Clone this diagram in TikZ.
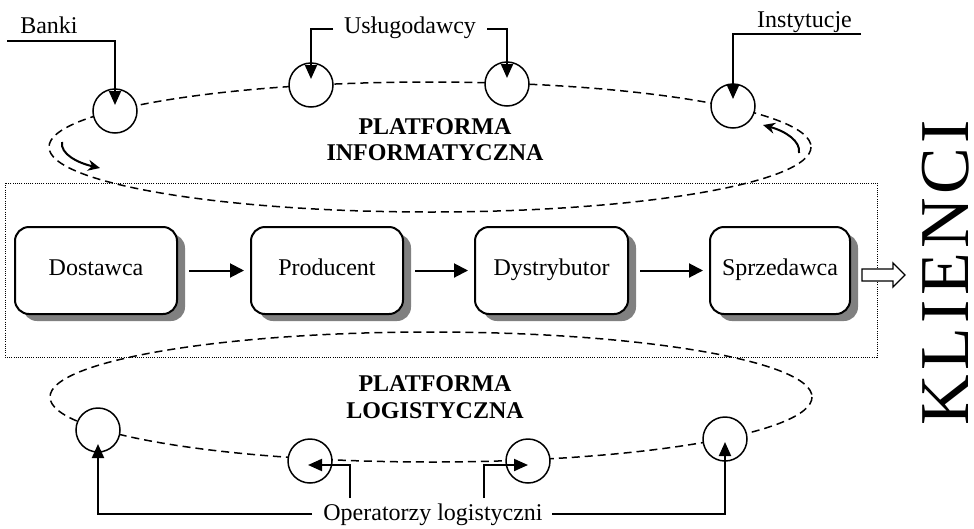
\documentclass[tikz,border=0pt]{standalone}
\usepackage{fontspec}
\setmainfont{Liberation Serif}
\newfontfamily\klientfont[LetterSpace=6]{Liberation Serif}
\usetikzlibrary{arrows.meta,shadows,calc}

\begin{document}
\begin{tikzpicture}[x=1pt,y=-1pt,
  every node/.style={font=\fontsize{24}{28}\selectfont, inner sep=0pt},
  lbl/.style={anchor=base},
  plat/.style={anchor=base, font=\fontsize{24}{28}\selectfont\bfseries},
  stage/.style={draw, line width=2pt, rounded corners=14pt, fill=white,
    minimum height=87pt, text height=16pt, text depth=7pt,
    drop shadow={shadow xshift=8pt, shadow yshift=-7pt, fill=black!50, opacity=1}},
  hub/.style={circle, draw, line width=1.5pt, fill=white, minimum size=44pt},
  orbit/.style={line width=1.5pt, dash pattern=on 8pt off 5pt},
  lead/.style={line width=2pt, -{Triangle[length=14pt,width=12pt]}},
  flow/.style={line width=2pt, -{Triangle[length=14pt,width=14pt]}},
  turn/.style={line width=2pt, -{Stealth[length=12pt,width=11pt]}},
]
\useasboundingbox (0,0) rectangle (974,528);

% frame round the supply chain
\draw[line width=1pt, dash pattern=on 1pt off 1.2pt] (5,183) rectangle (877,357);

% the two platforms
\draw[orbit] (430,147) ellipse [x radius=381, y radius=65];
\draw[orbit] (431,397) ellipse [x radius=381, y radius=65];

% direction of the upper platform
\coordinate (tL0) at (62,142);
\coordinate (tL1) at (100,168);
\coordinate (tR0) at (799,153);
\coordinate (tR1) at (763,125);
\draw[turn] (tL0) .. controls (60,154) and (78,163) .. (tL1);
\draw[turn] (tR0) .. controls (801,141) and (785,131) .. (tR1);

% participants on the platforms
\node[hub] (cB)  at (115,111) {};
\node[hub] (cU1) at (311,85) {};
\node[hub] (cU2) at (507,84) {};
\node[hub] (cI)  at (733,106) {};
\node[hub] (cL1) at (98,430) {};
\node[hub] (cL2) at (310,461) {};
\node[hub] (cL3) at (528,461) {};
\node[hub] (cL4) at (725,439) {};

% platform names
\node[plat] (pi1) at (435,134) {PLATFORMA};
\node[plat] (pi2) at (435,160) {INFORMATYCZNA};
\node[plat] (pl1) at (435,391) {PLATFORMA};
\node[plat] (pl2) at (435,418) {LOGISTYCZNA};

% supply chain
\node[stage, minimum width=162pt] (d1) at (96,270.5) {Dostawca};
\node[stage, minimum width=152pt] (d2) at (327,270.5) {Producent};
\node[stage, minimum width=153pt] (d3) at (551.5,270.5) {Dystrybutor};
\node[stage, minimum width=140pt] (d4) at (780,270.5) {Sprzedawca};
\draw[flow, shorten <=11pt, shorten >=6pt] (d1.east) -- (d2.west);
\draw[flow, shorten <=11pt, shorten >=6pt] (d2.east) -- (d3.west);
\draw[flow, shorten <=11pt, shorten >=6pt] (d3.east) -- (d4.west);

% hollow arrow to the customers
\coordinate (kA) at ($(d4.east)+(11,4.5)$);
\draw[line width=1.3pt, fill=white, line join=miter]
  ($(kA)+(0,-6)$) -- ++(31,0) -- ++(0,-6) -- ++(12,12) -- ++(-12,12)
  -- ++(0,-6) -- ++(-31,0) -- cycle;
\node[rotate=90, text height=46pt, text depth=0pt,
  font=\klientfont\fontsize{70}{80}\selectfont] (klienci) at (945,272.5) {KLIENCI};

% labels of the participants
\node[lbl] (banki) at (49,33) {Banki};
\node[lbl] (uslug) at (410,33) {Usługodawcy};
\node[lbl] (inst)  at (804.5,27) {Instytucje};
\node[lbl] (oper)  at (433,520) {Operatorzy logistyczni};

\coordinate (bankiEnd) at (7,41);
\coordinate (uslugL) at (333,29);
\coordinate (uslugR) at (487,29);
\coordinate (instEnd) at (861,34);
\coordinate (operL) at (312,514);
\coordinate (operR) at (552,514);
\coordinate (operML) at (350,498);
\coordinate (operMR) at (484,498);

\draw[lead] (bankiEnd) -| ($(cB.center)+(0,-6)$);
\draw[lead] (uslugL) -| ($(cU1.center)+(0,-6)$);
\draw[lead] (uslugR) -| ($(cU2.center)+(0,-6)$);
\draw[lead] (instEnd) -| ($(cI.center)+(0,-7)$);
\draw[lead] (operL) -| ($(cL1.center)+(0,14)$);
\draw[lead] (operR) -| ($(cL4.center)+(0,3)$);
\draw[lead] (operML) |- ($(cL2.center)+(-2,4)$);
\draw[lead] (operMR) |- ($(cL3.center)+(0,4)$);
\end{tikzpicture}
\end{document}
